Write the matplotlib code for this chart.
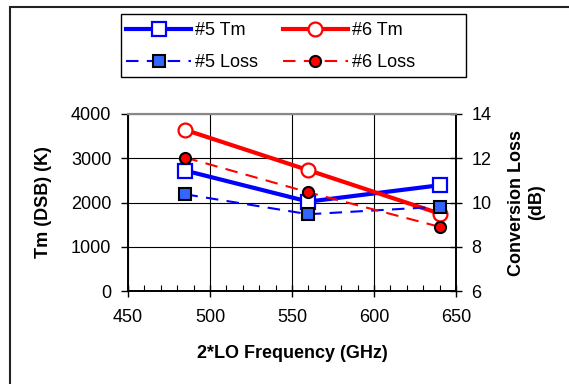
import matplotlib
matplotlib.use("Agg")
import matplotlib.pyplot as plt
from matplotlib.patches import Rectangle
from matplotlib.ticker import MultipleLocator

plt.rcParams['font.family'] = ['Liberation Sans', 'DejaVu Sans']

freq = [485, 560, 640]
tm5 = [2720, 2020, 2390]
tm6 = [3640, 2730, 1750]
loss5 = [10.37, 9.47, 9.81]
loss6 = [12.03, 10.46, 8.9]

W, H = 569, 384
fig = plt.figure(figsize=(W/100, H/100), dpi=100)
ax = fig.add_axes([128/W, 1-291/H, (456-128)/W, (291-114)/H])
ax2 = ax.twinx()

# frame around the chart (Excel style, cut at right/bottom)
fig.patches.append(Rectangle((10/W, -0.2), 2, 1 - 7/H + 0.2, transform=fig.transFigure,
                             fill=False, lw=1.5, ec='#222222'))
# legend box
fig.patches.append(Rectangle((121/W, 1-77/H), (466-121)/W, 63/H, transform=fig.transFigure,
                             fill=False, lw=1.0, ec='black'))

l1, = ax.plot(freq, tm5, '-s', color='#0000ff', lw=3, ms=10, mfc='white', mec='#0000ff', mew=1.6,
              label='#5 Tm', zorder=3)
l2, = ax.plot(freq, tm6, '-o', color='#ff0000', lw=3, ms=10, mfc='white', mec='#ff0000', mew=1.6,
              label='#6 Tm', zorder=3)
l3, = ax2.plot(freq, loss5, '--s', color='#0000ff', lw=1.5, ms=8, mfc='#3366ff', mec='black', mew=1.5,
               dashes=(6, 4), label='#5 Loss')
l4, = ax2.plot(freq, loss6, '--o', color='#ff0000', lw=1.5, ms=8, mfc='#ff0000', mec='black', mew=1.5,
               dashes=(6, 4), label='#6 Loss')

ax.set_xlim(450, 650)
ax.set_ylim(0, 4000)
ax2.set_ylim(6, 14)
ax.xaxis.set_major_locator(MultipleLocator(50))
ax.xaxis.set_minor_locator(MultipleLocator(10))
ax.yaxis.set_major_locator(MultipleLocator(1000))
ax2.yaxis.set_major_locator(MultipleLocator(2))

ax.grid(True, which='major', color='black', lw=0.8)
ax.set_axisbelow(True)

fs = 13
ax.tick_params(axis='x', which='major', direction='inout', length=8, width=1, labelsize=fs, pad=9)
ax.tick_params(axis='x', which='minor', direction='in', length=4, width=0.8)
ax.tick_params(axis='y', direction='out', length=5, width=1, labelsize=fs, pad=7)
ax2.tick_params(axis='y', direction='inout', length=8, width=1, labelsize=fs, pad=7)

for a in (ax, ax2):
    a.spines['top'].set_color('#888888')
    a.spines['top'].set_linewidth(1.5)
    for s in ('left', 'bottom', 'right'):
        a.spines[s].set_linewidth(1.2)

ax.set_xlabel('2*LO Frequency (GHz)', fontsize=fs, fontweight='bold', labelpad=14)
ax.set_ylabel('Tm (DSB) (K)', fontsize=fs, fontweight='bold', labelpad=14)
ax2.set_ylabel('Conversion Loss\n(dB)', fontsize=fs, fontweight='bold', labelpad=12)

leg = fig.legend(handles=[l1, l3, l2, l4], ncol=2, fontsize=fs,
                 loc='upper left', bbox_to_anchor=(126/W, 1-22/H),
                 handlelength=3.6, columnspacing=1.4, handletextpad=0.2,
                 frameon=False, borderaxespad=0, borderpad=0, labelspacing=0.85)

fig.savefig('out.png', dpi=100)
